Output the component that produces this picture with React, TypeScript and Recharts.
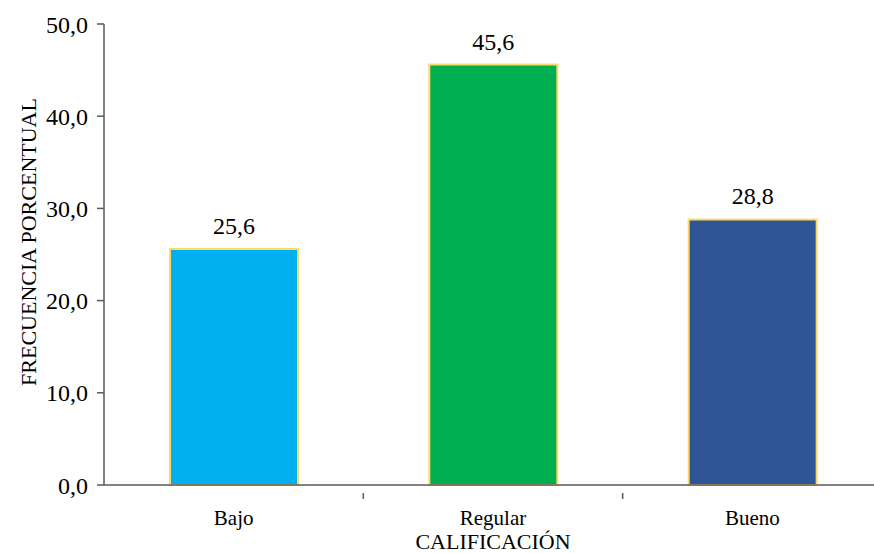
import { BarChart, Bar, XAxis, YAxis, Cell, LabelList } from 'recharts'

const categorias = ['Bajo', 'Regular', 'Bueno']
const porcentajes = [25.6, 45.6, 28.8]
const yTicks = [0, 10, 20, 30, 40, 50]

const COLORS = ['#00B0F0', '#00B050', '#2F5597']
const FONT = "'Liberation Serif', 'Times New Roman', serif"

const CHART_W = 882
const CHART_H = 553
const LEFT = 104
const RIGHT = 0
const HALF_BAND = (CHART_W - LEFT - RIGHT) / categorias.length / 2

const fmt = (v: number) => v.toFixed(1).replace('.', ',')

const data = categorias.map((c, i) => ({ name: c, value: porcentajes[i] }))

function CategoryTick(props: any) {
  const { x, y, payload } = props
  return (
    <g>
      <line x1={x + HALF_BAND} x2={x + HALF_BAND} y1={y} y2={y + 6} stroke="#595959" strokeWidth={1.5} />
      <text x={x} y={y + 32} textAnchor="middle" fontSize={21} fill="#000">
        {payload.value}
      </text>
    </g>
  )
}

function ValueLabel(props: any) {
  const { x, y, width, value } = props
  return (
    <text x={x + width / 2} y={y - 15} textAnchor="middle" fontSize={24} fill="#000">
      {fmt(value)}
    </text>
  )
}

export default function App() {
  return (
    <div style={{ width: 874, height: CHART_H, overflow: 'hidden' }}>
      <style>{`body{margin:0} svg text, svg tspan{font-family:${FONT} !important}`}</style>
      <BarChart
        width={CHART_W}
        height={CHART_H}
        data={data}
        margin={{ top: 24, right: RIGHT, left: 0, bottom: 0 }}
      >
        <XAxis
          dataKey="name"
          height={68}
          tickLine={false}
          axisLine={{ stroke: '#595959', strokeWidth: 1.5 }}
          tick={<CategoryTick />}
          interval={0}
          label={{
            content: ({ viewBox }: any) => (
              <text x={viewBox.x + viewBox.width / 2} y={549} textAnchor="middle" fontSize={22} fill="#000">
                CALIFICACIÓN
              </text>
            ),
          }}
        />
        <YAxis
          width={LEFT}
          domain={[0, 50]}
          ticks={yTicks}
          tickFormatter={fmt}
          tickSize={7}
          tickMargin={9}
          tick={{ fill: '#000', fontSize: 24 }}
          tickLine={{ stroke: '#595959', strokeWidth: 1.5 }}
          axisLine={{ stroke: '#595959', strokeWidth: 1.5 }}
          label={{
            content: () => (
              <text
                x={28}
                y={242}
                transform="rotate(-90 28 242)"
                textAnchor="middle"
                dominantBaseline="central"
                fontSize={22}
                fill="#000"
              >
                FRECUENCIA PORCENTUAL
              </text>
            ),
          }}
        />
        <Bar dataKey="value" barSize={128} stroke="#FFD966" strokeWidth={2} isAnimationActive={false}>
          {data.map((d, i) => (
            <Cell key={d.name} fill={COLORS[i]} />
          ))}
          <LabelList dataKey="value" content={<ValueLabel />} />
        </Bar>
      </BarChart>
    </div>
  )
}
